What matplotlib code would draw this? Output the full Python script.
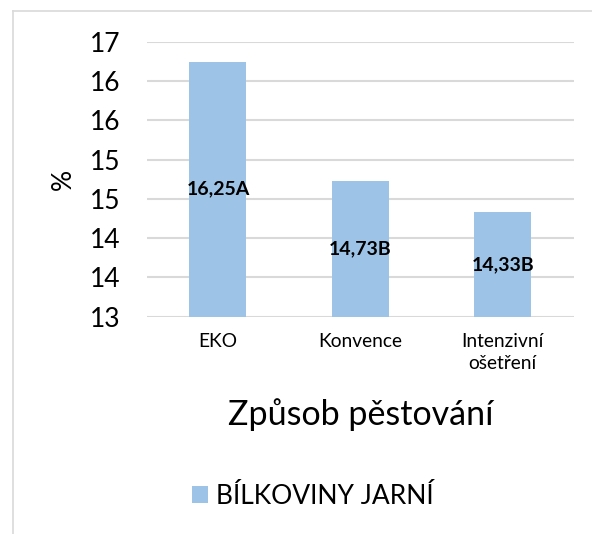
import math
import numpy as np
import matplotlib
matplotlib.use("Agg")
import matplotlib.pyplot as plt
from matplotlib.lines import Line2D
from matplotlib.ticker import FuncFormatter

plt.rcParams['font.family'] = ['Lato', 'DejaVu Sans']

# data
categories = ["EKO", "Konvence", "Intenzivní\nošetření"]
values = [16.25, 14.73, 14.33]
letters = ["A", "B", "B"]
series_name = "BÍLKOVINY JARNÍ"
bar_color = "#9DC3E6"
grid_color = "#D9D9D9"

fig = plt.figure(figsize=(5.92, 5.34), dpi=100)
ax = fig.add_axes([0.2478, 0.4073, 0.7218, 0.514])

x = np.arange(len(categories))
bars = ax.bar(x, values, width=0.4, color=bar_color, zorder=2, label=series_name)

ax.set_xlim(-0.5, len(categories) - 0.5)
ax.set_ylim(13, 16.5)
ax.set_yticks(np.arange(13, 16.51, 0.5))
# Excel style: half steps shown as rounded integers
ax.yaxis.set_major_formatter(FuncFormatter(lambda v, p: str(int(math.floor(v + 0.5)))))
ax.yaxis.grid(True, color=grid_color, linewidth=1.5, zorder=0)
ax.set_axisbelow(True)
for s in ax.spines.values():
    s.set_visible(False)
ax.tick_params(axis='y', length=0, pad=19, labelsize=19)
ax.set_xticks(x)
ax.set_xticklabels(categories, fontsize=13.8, linespacing=1.35)
ax.tick_params(axis='x', length=0, pad=12)

for xi, v, l in zip(x, values, letters):
    lbl = ("%.2f" % v).replace(".", ",") + l
    ax.text(xi, (13 + v) / 2, lbl, ha='center', va='center',
            fontsize=14, fontweight='bold', color='black', zorder=3)

ax.set_ylabel("%", fontsize=19, labelpad=10)
ax.set_xlabel("Způsob pěstování", fontsize=24.5, labelpad=19)

fig.legend(handles=[bars], labels=[series_name], loc='center',
           bbox_to_anchor=(0.528, 1 - 496 / 534), frameon=False, fontsize=19,
           handlelength=0.6, handleheight=0.6, handletextpad=0.3)

# chart border (light gray)
fig.add_artist(Line2D([12.5 / 592, 12.5 / 592], [0, 1 - 11 / 534],
                      transform=fig.transFigure, color=grid_color, linewidth=1.2))
fig.add_artist(Line2D([12.5 / 592, 1], [1 - 11 / 534, 1 - 11 / 534],
                      transform=fig.transFigure, color=grid_color, linewidth=1.2))

fig.savefig("out.png", dpi=100)
